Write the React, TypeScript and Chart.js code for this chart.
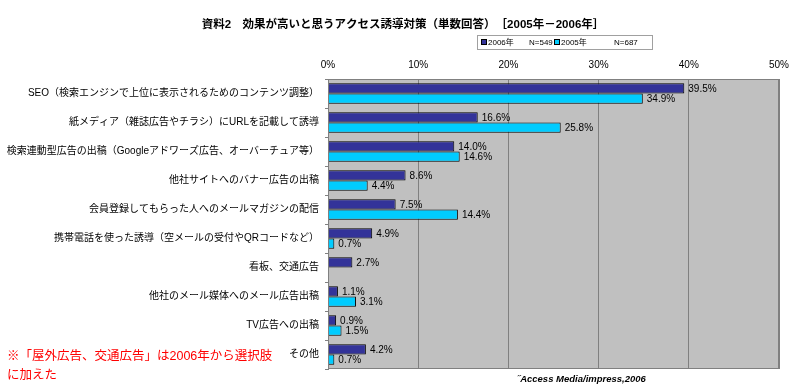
import React, { useEffect, useRef } from "react";
import { Chart, registerables } from "chart.js";

Chart.register(...registerables);

const categories = [
  "SEO（検索エンジンで上位に表示されるためのコンテンツ調整）",
  "紙メディア（雑誌広告やチラシ）にURLを記載して誘導",
  "検索連動型広告の出稿（Googleアドワーズ広告、オーバーチュア等）",
  "他社サイトへのバナー広告の出稿",
  "会員登録してもらった人へのメールマガジンの配信",
  "携帯電話を使った誘導（空メールの受付やQRコードなど）",
  "看板、交通広告",
  "他社のメール媒体へのメール広告出稿",
  "TV広告への出稿",
  "その他",
];
const values2006 = [39.5, 16.6, 14.0, 8.6, 7.5, 4.9, 2.7, 1.1, 0.9, 4.2];
const values2005 = [34.9, 25.8, 14.6, 4.4, 14.4, 0.7, null, 3.1, 1.5, 0.7];
const seriesYears = ["2006年", "2005年"];
const seriesN = ["N=549", "N=687"];
const xTickValues = [0, 10, 20, 30, 40, 50];
const titleText = "資料2　効果が高いと思うアクセス誘導対策（単数回答）　［2005年－2006年］";
const noteLines = ["※「屋外広告、交通広告」は2006年から選択肢", "に加えた"];
const sourceText = "˝Access Media/impress,2006";

const FONT = "'Liberation Sans', Arial, 'Noto Sans CJK JP', sans-serif";
const COLOR_2006 = "#333399";
const COLOR_2005 = "#00CCFF";

export default function App() {
  const canvasRef = useRef<HTMLCanvasElement | null>(null);

  useEffect(() => {
    const canvas = canvasRef.current;
    if (!canvas) return;

    const bgPlugin = {
      id: "plotBg",
      beforeDraw(chart: any) {
        const { ctx, chartArea } = chart;
        ctx.save();
        ctx.fillStyle = "#C0C0C0";
        ctx.fillRect(chartArea.left, chartArea.top, chartArea.right - chartArea.left, chartArea.bottom - chartArea.top);
        ctx.restore();
      },
    };

    const labelPlugin = {
      id: "valueLabels",
      afterDatasetsDraw(chart: any) {
        const { ctx, chartArea } = chart;
        ctx.save();
        ctx.strokeStyle = "#808080";
        ctx.lineWidth = 1;
        ctx.strokeRect(chartArea.left + 0.5, chartArea.top + 0.5, chartArea.right - chartArea.left - 1, chartArea.bottom - chartArea.top - 1);
        ctx.font = `10px ${FONT}`;
        ctx.fillStyle = "#000";
        ctx.textAlign = "left";
        ctx.textBaseline = "middle";
        chart.data.datasets.forEach((ds: any, di: number) => {
          const meta = chart.getDatasetMeta(di);
          meta.data.forEach((el: any, i: number) => {
            const v = ds.data[i];
            if (v === null || v === undefined) return;
            ctx.fillText(v.toFixed(1) + "%", el.x + 4, el.y + 0.5);
          });
        });
        ctx.restore();
      },
    };

    const decorPlugin = {
      id: "decor",
      afterDraw(chart: any) {
        const { ctx } = chart;
        ctx.save();
        // title
        ctx.font = `bold 11.5px ${FONT}`;
        ctx.fillStyle = "#000";
        ctx.textAlign = "center";
        ctx.textBaseline = "middle";
        ctx.fillText(titleText, 403, 25);
        // legend
        ctx.fillStyle = "#fff";
        ctx.fillRect(477, 35, 175, 14);
        ctx.strokeStyle = "#A0A0A0";
        ctx.lineWidth = 1;
        ctx.strokeRect(477.5, 35.5, 175, 14);
        const items = [
          { x: 481, color: COLOR_2006, year: seriesYears[0], n: seriesN[0], nx: 529 },
          { x: 554, color: COLOR_2005, year: seriesYears[1], n: seriesN[1], nx: 614 },
        ];
        ctx.font = `8px ${FONT}`;
        ctx.textAlign = "left";
        items.forEach((it) => {
          ctx.fillStyle = it.color;
          ctx.fillRect(it.x, 39, 6, 6);
          ctx.strokeStyle = "#000";
          ctx.strokeRect(it.x + 0.5, 39.5, 5, 5);
          ctx.fillStyle = "#000";
          ctx.fillText(it.year, it.x + 7, 42.5);
          ctx.fillText(it.n, it.nx, 42.5);
        });
        // note
        ctx.fillStyle = "#FF0000";
        ctx.font = `12.5px ${FONT}`;
        ctx.fillText(noteLines[0], 7, 357);
        ctx.fillText(noteLines[1], 7, 376);
        // source
        ctx.fillStyle = "#000";
        ctx.font = `italic bold 9.5px ${FONT}`;
        ctx.fillText(sourceText, 517, 379);
        ctx.restore();
      },
    };

    const chart = new Chart(canvas, {
      type: "bar",
      data: {
        labels: categories,
        datasets: [
          {
            label: seriesYears[0] + " " + seriesN[0],
            data: values2006,
            backgroundColor: COLOR_2006,
            borderColor: "#000",
            borderWidth: 1,
            categoryPercentage: 0.7,
            barPercentage: 1.0,
          },
          {
            label: seriesYears[1] + " " + seriesN[1],
            data: values2005 as any,
            backgroundColor: COLOR_2005,
            borderColor: "#000",
            borderWidth: 1,
            categoryPercentage: 0.7,
            barPercentage: 1.0,
          },
        ],
      },
      options: {
        indexAxis: "y",
        animation: false,
        responsive: false,
        maintainAspectRatio: false,
        layout: { padding: { left: 0, right: 21, top: 0, bottom: 17 } },
        plugins: {
          legend: { display: false },
          title: { display: false },
          tooltip: { enabled: false },
        },
        scales: {
          x: {
            position: "top",
            min: 0,
            max: 50,
            afterBuildTicks: (scale: any) => {
              scale.ticks = xTickValues.map((v) => ({ value: v }));
            },
            ticks: {
              callback: (v: any) => v + "%",
              font: { size: 10, family: FONT },
              color: "#000",
              padding: 8,
              maxRotation: 0,
            },
            grid: { color: "#808080", drawTicks: false, lineWidth: 1 },
            border: { display: true, color: "#808080" },
            afterFit: (s: any) => {
              s.height = 79;
            },
          },
          y: {
            ticks: {
              font: { size: 10, family: FONT },
              color: "#000",
              padding: 6,
              autoSkip: false,
            },
            grid: { offset: true, drawOnChartArea: false, tickLength: 3, color: "#808080" },
            border: { display: true, color: "#808080" },
            afterFit: (s: any) => {
              s.width = 328;
            },
          },
        },
      } as any,
      plugins: [bgPlugin, labelPlugin, decorPlugin],
    });

    return () => chart.destroy();
  }, []);

  return (
    <div style={{ position: "absolute", left: 0, top: 0, width: 800, height: 386, background: "#fff" }}>
      <canvas ref={canvasRef} width={800} height={386} />
    </div>
  );
}
